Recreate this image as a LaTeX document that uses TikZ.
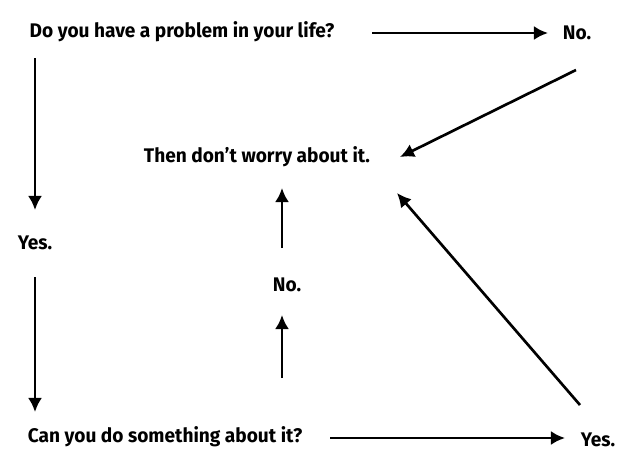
\documentclass[tikz,border=0pt]{standalone}
\usepackage{fontspec}
\setmainfont{Fira Sans}
\usetikzlibrary{positioning}
\tikzset{txt/.style={font=\fontsize{14}{16}\selectfont\bfseries, inner sep=1pt},
  arr/.style={line width=1.9pt, -{Latex[length=10pt,width=10pt]}}}
\usetikzlibrary{arrows.meta}
\newcommand{\sq}[1]{\scalebox{0.97}[1]{#1}}
\begin{document}
\begin{tikzpicture}[x=0.025cm,y=-0.025cm]
\useasboundingbox (0,0) rectangle (640,475);
\node[txt] (problem) at (182,32) {\sq{Do you have a problem in your life?}};
\node[txt] (noA) at (577,33) {\sq{No.}};
\node[txt] (dont) at (257,157) {\sq{Then don’t worry about it.}};
\node[txt] (yesA) at (35,243) {\sq{Yes.}};
\node[txt] (noB) at (287,285) {\sq{No.}};
\node[txt] (cando) at (165,437) {\sq{Can you do something about it?}};
\node[txt] (yesB) at (598,440) {\sq{Yes.}};
% arrow ends
\coordinate (p1) at (372,33); \coordinate (p2) at (548,33);
\coordinate (d1) at (35,58); \coordinate (d2) at (35,210);
\coordinate (d3) at (35,277); \coordinate (d4) at (35,412);
\coordinate (c1) at (330,438); \coordinate (c2) at (565,438);
\coordinate (u1) at (282,378); \coordinate (u2) at (282,315);
\coordinate (u3) at (282,248); \coordinate (u4) at (282,188);
\coordinate (n1) at (576,70); \coordinate (n2) at (400,157);
\coordinate (y1) at (580,405); \coordinate (y2) at (397,193);
\draw[arr] (p1) -- (p2);
\draw[arr] (d1) -- (d2);
\draw[arr] (d3) -- (d4);
\draw[arr] (c1) -- (c2);
\draw[arr] (u1) -- (u2);
\draw[arr] (u3) -- (u4);
\draw[arr] (n1) -- (n2);
\draw[arr] (y1) -- (y2);
\end{tikzpicture}
\end{document}
